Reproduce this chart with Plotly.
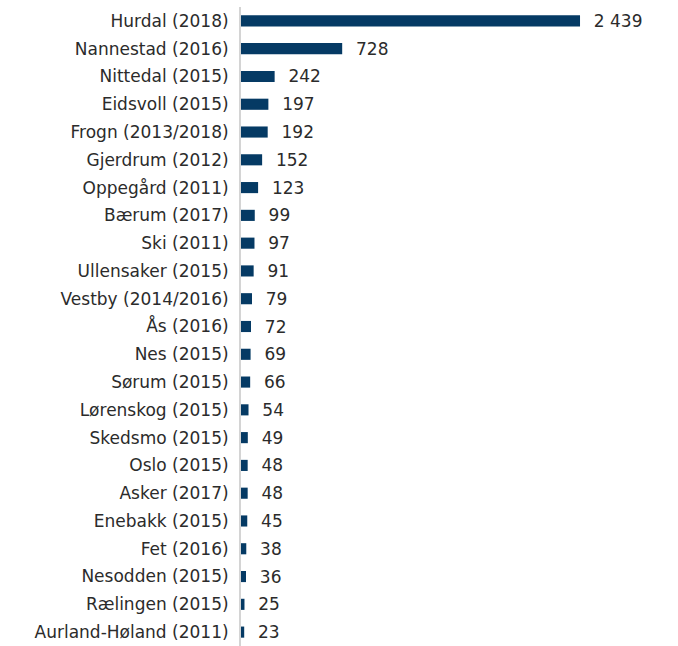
import plotly.graph_objects as go

kommuner = [
    "Hurdal (2018)", "Nannestad (2016)", "Nittedal (2015)", "Eidsvoll (2015)",
    "Frogn (2013/2018)", "Gjerdrum (2012)", "Oppegård (2011)", "Bærum (2017)",
    "Ski (2011)", "Ullensaker (2015)", "Vestby (2014/2016)", "Ås (2016)",
    "Nes (2015)", "Sørum (2015)", "Lørenskog (2015)", "Skedsmo (2015)",
    "Oslo (2015)", "Asker (2017)", "Enebakk (2015)", "Fet (2016)",
    "Nesodden (2015)", "Rælingen (2015)", "Aurland-Høland (2011)",
]
verdier = [2439, 728, 242, 197, 192, 152, 123, 99, 97, 91, 79, 72,
           69, 66, 54, 49, 48, 48, 45, 38, 36, 25, 23]

FONT = "DejaVu Sans"

fig = go.Figure(go.Bar(
    x=verdier,
    y=kommuner,
    orientation="h",
    marker=dict(color="#053a64", line=dict(width=0)),
    width=0.4,
    texttemplate="\u00a0\u00a0%{x:,}",
    textposition="outside",
    constraintext="none",
    textfont=dict(family=FONT, size=17, color="#2b2b2b"),
    cliponaxis=False,
))

fig.update_layout(
    width=678, height=646,
    margin=dict(l=241, r=20, t=7, b=0),
    plot_bgcolor="white",
    paper_bgcolor="white",
    separators=". ",
    showlegend=False,
    font=dict(family=FONT, size=17, color="#2b2b2b"),
    xaxis=dict(range=[0, 3000], visible=False),
    yaxis=dict(
        autorange="reversed",
        showline=True, linecolor="#d4d4d4", linewidth=2,
        showgrid=False, ticks="", ticklabelstandoff=7,
        tickfont=dict(family=FONT, size=17, color="#2b2b2b"),
    ),
)

fig.write_html("out.html")
